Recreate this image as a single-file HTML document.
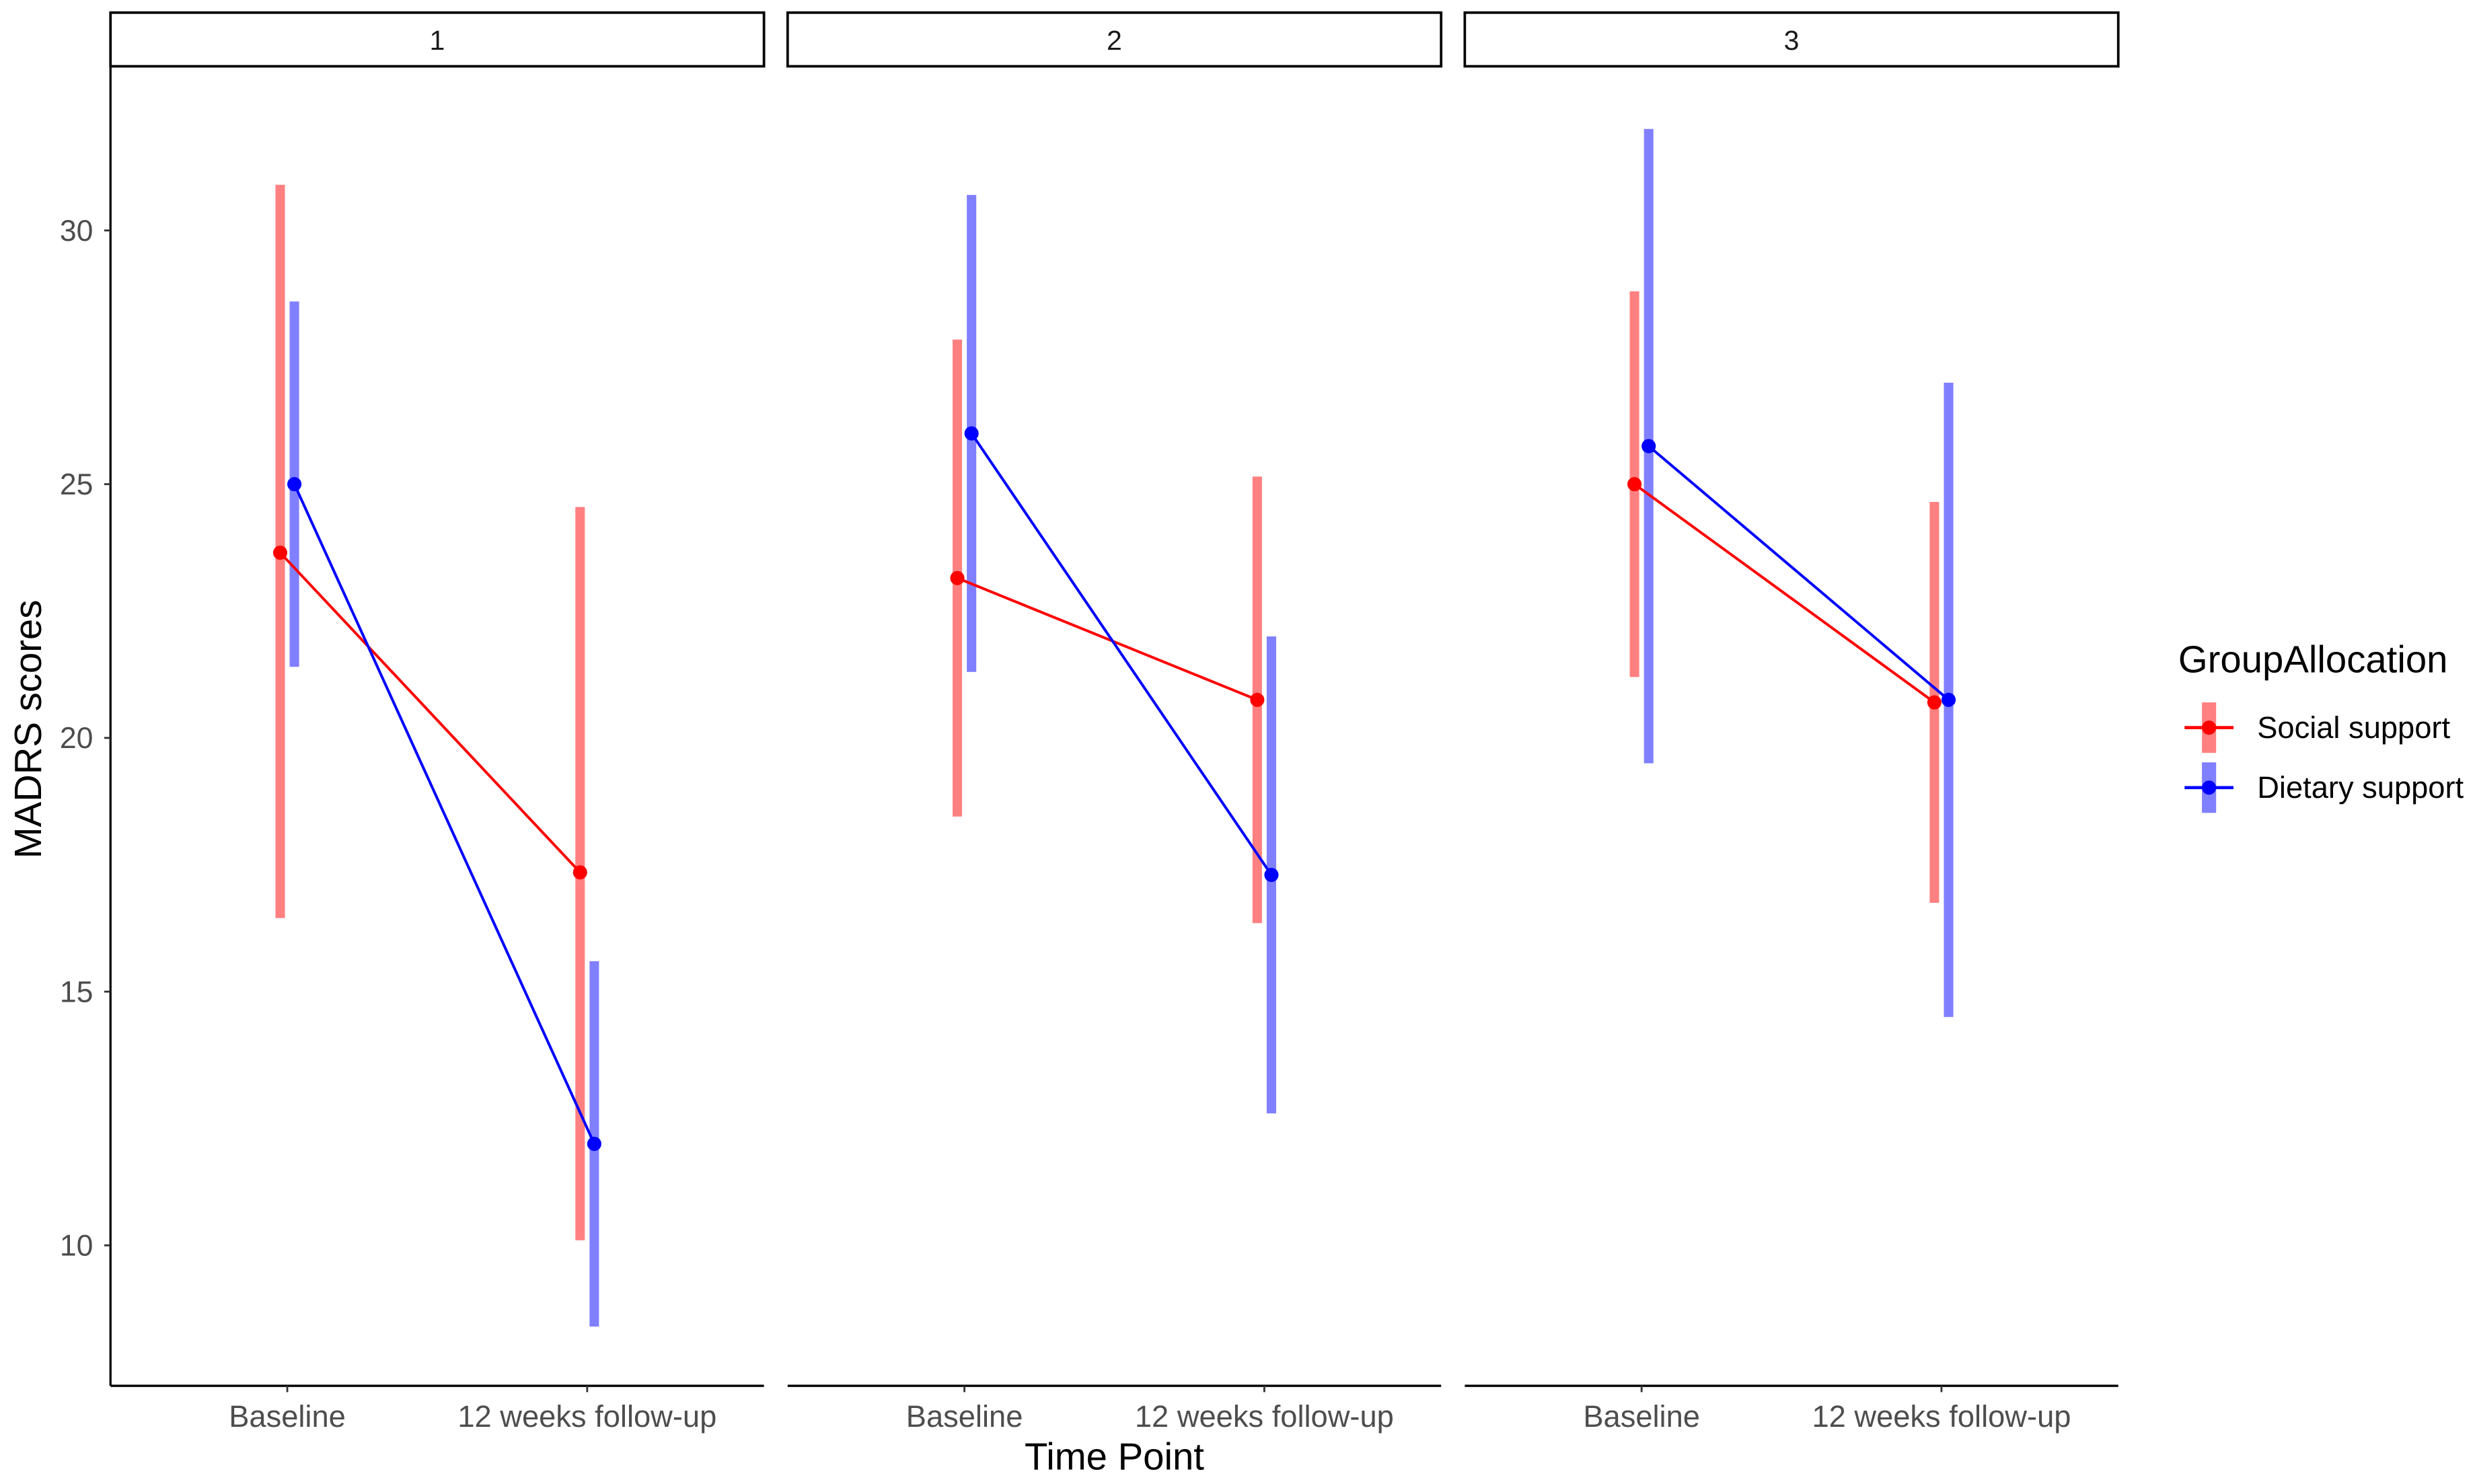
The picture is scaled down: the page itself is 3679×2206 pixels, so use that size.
<!DOCTYPE html>
<html><head><meta charset="utf-8"><style>
html,body{margin:0;padding:0;background:#fff;}
svg{display:block;font-family:"Liberation Sans",sans-serif;}
</style></head><body>
<svg id="chart" width="3679" height="2206" viewBox="0 0 1568 940.2" preserveAspectRatio="none" xmlns="http://www.w3.org/2000/svg">
<g id="root"></g>
</svg>
<script>
const panels = ["1","2","3"];
const timepoints = ["Baseline","12 weeks follow-up"];
const groups = ["Social support","Dietary support"];
// [panel][time] values
const socialMean = [[23.65,17.35],[23.15,20.75],[25.0,20.7]];
const socialLow  = [[16.45,10.1],[18.45,16.35],[21.2,16.75]];
const socialHigh = [[30.9,24.55],[27.85,25.15],[28.8,24.65]];
const dietMean = [[25.0,12.0],[26.0,17.3],[25.75,20.75]];
const dietLow  = [[21.4,8.4],[21.3,12.6],[19.5,14.5]];
const dietHigh = [[28.6,15.6],[30.7,22.0],[32.0,27.0]];
const yTicks = [10,15,20,25,30];

const NS="http://www.w3.org/2000/svg";
const root=document.getElementById('root');
function mk(tag,attrs,parent){const e=document.createElementNS(NS,tag);for(const k in attrs)e.setAttribute(k,attrs[k]);(parent||root).appendChild(e);return e;}
const panelLeft=[70,499,928], panelW=414, plotTop=42, plotBottom=878;
function yScale(v){return 789-(v-10)*32.15;}
function xScale(p,t,g){return panelLeft[p]+112+t*190+(g===0?-4.5:4.5);}
const lineCol=["#ff0000","#0000ff"], barCol=["#ff8080","#8080ff"];
const means=[socialMean,dietMean], lows=[socialLow,dietLow], highs=[socialHigh,dietHigh];

panels.forEach((lab,p)=>{
  const L=panelLeft[p];
  const strip=mk('rect',{x:L,y:8,width:panelW,height:34,fill:'#fff',stroke:'#000','stroke-width':1.6});
  
  
  const st=mk('text',{x:L+panelW/2,y:31.5,'text-anchor':'middle','font-size':17.5,fill:'#1a1a1a'});
  st.textContent=lab;
  
  
  const xa=mk('line',{x1:L,x2:L+panelW,y1:plotBottom,y2:plotBottom,stroke:'#000','stroke-width':1.4});
  
  
  timepoints.forEach((t,ti)=>{
    const cx=L+112+ti*190;
    mk('line',{x1:cx,x2:cx,y1:plotBottom,y2:plotBottom+4,stroke:'#333','stroke-width':1.2});
    const tl=mk('text',{x:cx,y:904,'text-anchor':'middle','font-size':19.3,fill:'#4d4d4d'});
    tl.textContent=t;
    
    
  });
  [0,1].forEach(g=>{
    [0,1].forEach(t=>{
      const b=mk('rect',{x:xScale(p,t,g)-3,y:yScale(highs[g][p][t]),width:6,height:yScale(lows[g][p][t])-yScale(highs[g][p][t]),fill:barCol[g]});
      
      
    });
  });
  [0,1].forEach(g=>{
    const ln=mk('line',{x1:xScale(p,0,g),y1:yScale(means[g][p][0]),x2:xScale(p,1,g),y2:yScale(means[g][p][1]),stroke:lineCol[g],'stroke-width':1.7});
    
    
    [0,1].forEach(t=>{
      const c=mk('circle',{cx:xScale(p,t,g),cy:yScale(means[g][p][t]),r:4.5,fill:lineCol[g]});
      
      
    });
  });
});
const ya=mk('line',{x1:70,x2:70,y1:plotTop,y2:plotBottom,stroke:'#000','stroke-width':1.4});


yTicks.forEach(v=>{
  mk('line',{x1:66,x2:70,y1:yScale(v),y2:yScale(v),stroke:'#333','stroke-width':1.2});
  const t=mk('text',{x:59,y:yScale(v)+6.5,'text-anchor':'end','font-size':19,fill:'#4d4d4d'});
  t.textContent=v;
  
  
});
const xt=mk('text',{x:706,y:931,'text-anchor':'middle','font-size':24,fill:'#000'});
xt.textContent='Time Point';


const yt=mk('text',{x:0,y:0,'text-anchor':'middle','font-size':24,fill:'#000',transform:'translate(26,462) rotate(-90)'});
yt.textContent='MADRS scores';


const lg=mk('text',{x:1380,y:426,'font-size':24,fill:'#000'});
lg.textContent='GroupAllocation';


groups.forEach((g,i)=>{
  const cy=461+i*38;
  mk('rect',{x:1395,y:cy-16,width:9,height:32,fill:barCol[i]});
  mk('line',{x1:1384,x2:1415,y1:cy,y2:cy,stroke:lineCol[i],'stroke-width':2});
  mk('circle',{cx:1399.5,cy:cy,r:4.5,fill:lineCol[i]});
  const t=mk('text',{x:1430,y:cy+6.5,'font-size':19.3,fill:'#000'});
  t.textContent=g;
  
  
});
</script>
</body></html>
